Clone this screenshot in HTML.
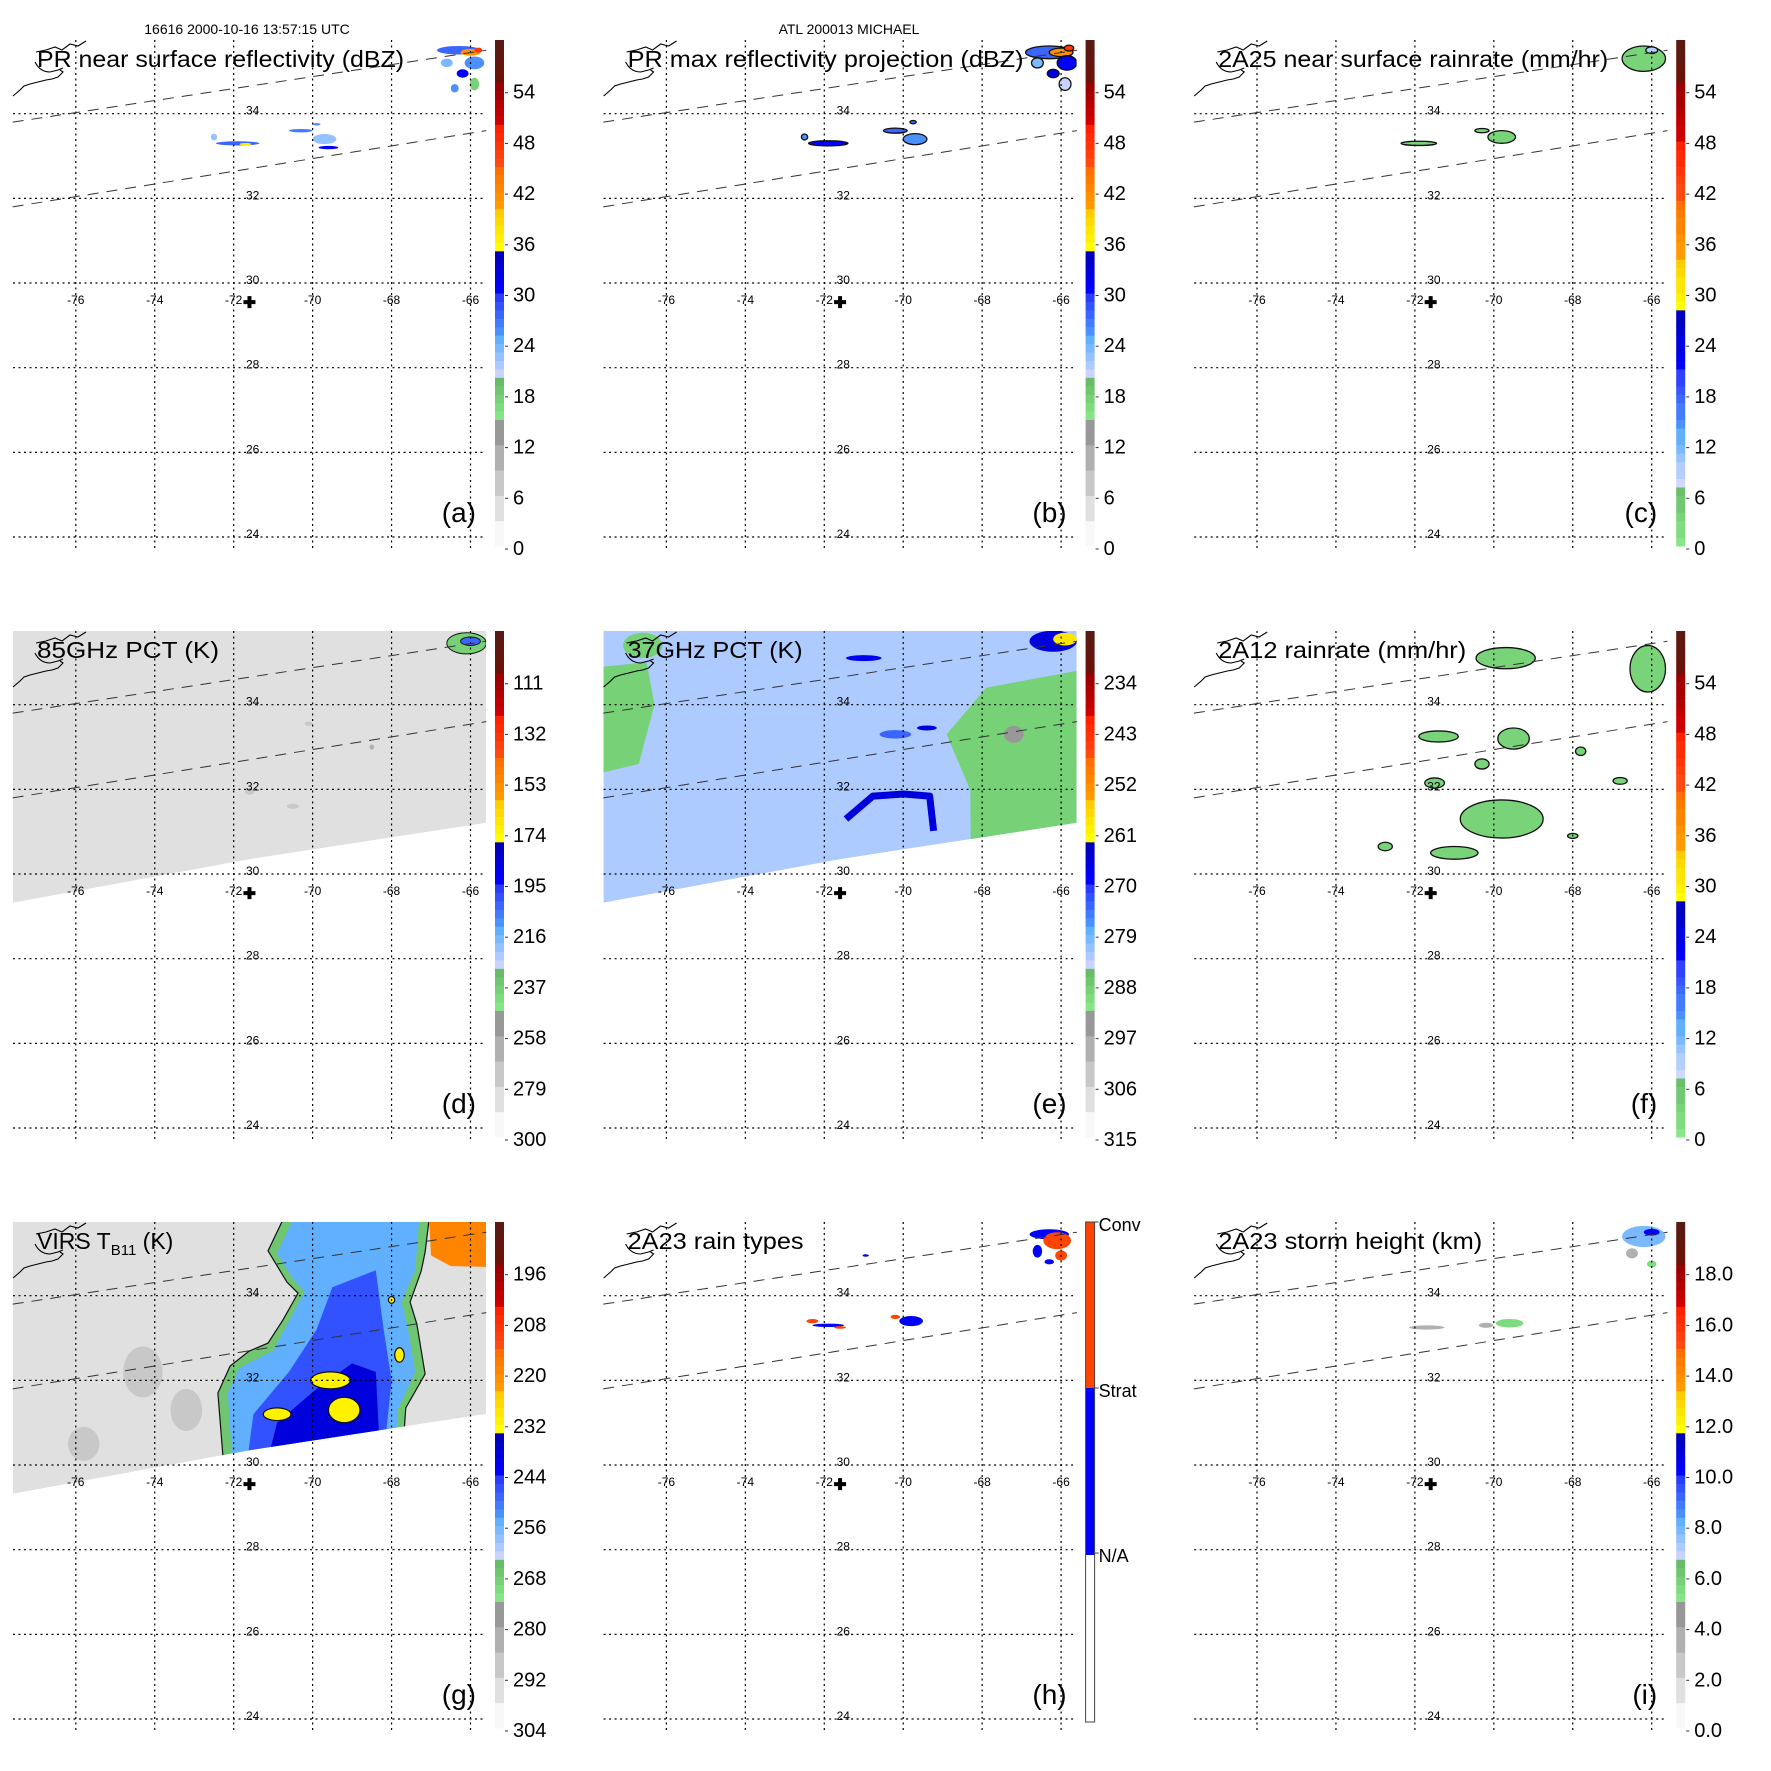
<!DOCTYPE html>
<html><head><meta charset="utf-8"><title>TRMM ATL 200013 MICHAEL</title>
<style>
html,body{margin:0;padding:0;background:#fff;}
svg{display:block;font-family:"Liberation Sans",Arial,sans-serif;}
</style></head>
<body>
<svg id="fig" width="1771" height="1771" viewBox="0 0 1771 1771" xmlns="http://www.w3.org/2000/svg">
<rect x="0" y="0" width="1771" height="1771" fill="#fff"/>
<text x="247" y="34" font-size="14" text-anchor="middle">16616 2000-10-16 13:57:15 UTC</text>
<text x="849" y="34" font-size="14" text-anchor="middle">ATL 200013 MICHAEL</text>
</svg>
<script>
// ---------- data ----------
const gridLons = [-76, -74, -72, -70, -68, -66];
const gridLats = [24, 26, 28, 30, 32, 34];
const centerLon = -71.6;
const centerLat = 29.55;
const swathLon = [-77.6, -65.6, -65.6, -71.6, -77.6];
const swathLat = [35.75, 35.75, 31.21, 30.35, 29.32];
const swathEdgeUpperLon = [-77.6, -65.6];
const swathEdgeUpperLat = [33.8, 35.5];
const swathEdgeLowerLon = [-77.6, -65.6];
const swathEdgeLowerLat = [31.8, 33.6];

const ticksDbz = ['0','6','12','18','24','30','36','42','48','54'];
const ticksRain = ['0','6','12','18','24','30','36','42','48','54'];
const ticks85 = ['300','279','258','237','216','195','174','153','132','111'];
const ticks37 = ['315','306','297','288','279','270','261','252','243','234'];
const ticksVirs = ['304','292','280','268','256','244','232','220','208','196'];
const ticksHeight = ['0.0','2.0','4.0','6.0','8.0','10.0','12.0','14.0','16.0','18.0'];
const rainTypeLabels = ['Conv','Strat','N/A'];

// cells: [lon, lat, rLon, rLat, value]
const aCells = [
  [-66.3,35.5,0.55,0.1,28],[-66.0,35.45,0.25,0.08,42],[-65.9,35.2,0.25,0.15,26],[-66.6,35.2,0.15,0.1,24],
  [-66.2,34.95,0.15,0.1,30],[-65.9,34.7,0.12,0.15,17],[-66.4,34.6,0.1,0.1,26],[-65.8,35.5,0.1,0.06,47],
  [-71.9,33.3,0.55,0.05,28],[-72.5,33.45,0.08,0.08,22],[-71.7,33.28,0.15,0.03,37],
  [-70.3,33.6,0.3,0.04,27],[-69.7,33.4,0.3,0.12,22],[-69.6,33.2,0.25,0.04,30],[-69.9,33.75,0.1,0.03,26]
];
const bCells = [
  [-66.3,35.45,0.6,0.15,28],[-66.0,35.45,0.3,0.1,42],[-65.85,35.2,0.25,0.17,30],[-66.6,35.2,0.15,0.12,24],
  [-66.2,34.95,0.15,0.1,32],[-65.9,34.7,0.15,0.15,20],[-65.8,35.55,0.12,0.07,47],
  [-71.9,33.3,0.5,0.06,30],[-72.5,33.45,0.08,0.07,26],
  [-70.2,33.6,0.3,0.06,28],[-69.7,33.4,0.3,0.13,26],[-69.75,33.8,0.08,0.04,28]
];
const cCells = [
  [-66.2,35.3,0.55,0.3,3],[-66.0,35.5,0.15,0.08,9],[-71.9,33.3,0.45,0.05,3],[-69.8,33.45,0.35,0.15,3],[-70.3,33.6,0.18,0.05,3]
];
const fCells = [
  [-69.7,35.1,0.75,0.25,3],[-66.1,34.85,0.45,0.55,3],[-71.4,33.25,0.5,0.13,3],[-69.5,33.2,0.4,0.25,3],
  [-70.3,32.6,0.18,0.12,3],[-71.5,32.15,0.25,0.12,3],[-69.8,31.3,1.05,0.45,3],[-71.0,30.5,0.6,0.15,3],
  [-72.75,30.65,0.18,0.1,3],[-67.8,32.9,0.13,0.1,3],[-66.8,32.2,0.18,0.08,3],[-68.0,30.9,0.13,0.06,3]
];
const dCells = [
  [-66.1,35.45,0.5,0.25,240],[-66.0,35.5,0.25,0.1,205],[-71.6,31.95,0.12,0.08,272],[-70.1,33.55,0.1,0.05,270],
  [-68.5,33.0,0.06,0.06,265],[-70.5,31.6,0.15,0.06,276],[-74.0,32.5,0.8,0.5,285]
];
const eCells = [
  [-66.2,35.5,0.6,0.25,266],[-65.9,35.55,0.3,0.15,258],[-71.0,35.1,0.45,0.07,268],[-70.2,33.3,0.4,0.1,273],
  [-69.4,33.45,0.25,0.06,266],[-67.2,33.3,0.25,0.2,297],[-76.6,35.4,0.5,0.3,289]
];
const ePolys = [
  [289, [[-77.6,34.9],[-76.5,35.0],[-76.3,34.0],[-76.7,32.6],[-77.6,32.4]]],
  [289, [[-67.9,34.4],[-65.61,34.8],[-65.61,31.0],[-68.29,30.6],[-68.3,31.98],[-68.9,33.3]]]
];
const eArcLon = [-71.45,-70.77,-69.99,-69.33,-69.23];
const eArcLat = [31.30,31.84,31.89,31.84,31.02];
const gPolys = [
  [268, [[-72.22,29.6],[-72.40,31.70],[-72.09,32.34],[-71.61,32.69],[-71.13,32.88],[-70.75,33.43],[-70.37,34.06],[-70.65,34.32],[-71.13,35.06],[-70.75,35.8],[-67.05,35.8],[-67.15,35.03],[-67.25,34.58],[-67.53,33.85],[-67.36,33.33],[-67.15,32.15],[-67.64,31.35],[-67.74,30.0]]],
  [255, [[-72.0,29.6],[-72.15,31.7],[-71.85,32.3],[-71.0,32.7],[-70.6,33.4],[-70.2,34.1],[-70.5,34.4],[-70.9,35.0],[-70.5,35.8],[-67.3,35.8],[-67.4,34.6],[-67.75,33.85],[-67.6,33.3],[-67.4,32.2],[-67.85,31.3],[-67.9,30.0]]],
  [247, [[-71.7,29.8],[-71.5,31.2],[-70.6,32.2],[-69.9,33.2],[-69.5,34.2],[-68.4,34.6],[-68.2,33.2],[-68.0,32.0],[-68.2,30.2]]],
  [240, [[-71.2,29.9],[-70.9,31.0],[-69.9,31.8],[-69.0,32.4],[-68.4,32.2],[-68.3,30.4]]],
  [218, [[-67.05,35.8],[-65.6,35.8],[-65.6,34.68],[-66.5,34.7],[-67.0,34.95]]]
];
const gCells = [
  [-74.3,32.2,0.5,0.6,287],[-73.2,31.3,0.4,0.5,287],[-75.8,30.5,0.4,0.4,288],
  [-69.55,32.0,0.5,0.2,232],[-69.2,31.3,0.4,0.3,232],[-70.9,31.2,0.35,0.15,232],[-67.8,32.6,0.12,0.17,232],[-68.0,33.9,0.08,0.08,232]
];
const hCells = [
  [-66.3,35.45,0.5,0.12,1],[-66.1,35.3,0.35,0.2,2],[-66.6,35.05,0.12,0.15,1],[-66.0,34.95,0.15,0.12,2],[-66.3,34.8,0.12,0.06,1],
  [-71.9,33.3,0.4,0.04,1],[-72.3,33.4,0.15,0.05,2],[-71.6,33.25,0.15,0.03,2],[-69.8,33.4,0.3,0.12,1],[-70.2,33.5,0.12,0.05,2],[-70.95,34.95,0.08,0.03,1]
];
const iCells = [
  [-66.2,35.4,0.55,0.25,8],[-66.0,35.5,0.2,0.08,10],[-66.5,35.0,0.15,0.12,3],[-66.0,34.75,0.12,0.08,5.5],
  [-71.7,33.25,0.45,0.05,3],[-69.6,33.35,0.35,0.1,5.5],[-70.2,33.3,0.18,0.06,3]
];

// colour bands (bottom colour, top colour)
const stdEdges = [0,0.25,0.333,0.417,0.5,0.583,0.667,0.75,0.833,0.917,1];
const stdColors = [['#f8f8f8','#989898'],['#86e686','#68bb68'],['#c8d4ff','#60b0ff'],['#4a90ff','#2a3cff'],['#0000ff','#0000b8'],['#ffff00','#ffcc00'],['#ff9a00','#ff7000'],['#ff4a10','#ff2000'],['#cc0000','#9a0000'],['#6b1208','#5a1a12']];
const rainEdges = [0,0.115,0.23,0.344,0.459,0.573,0.688,0.803,0.917,1];
const rainColors = [['#88e688','#6abf6a'],['#d0d8ff','#60b0ff'],['#4a90ff','#3040ff'],['#0000ff','#0000c0'],['#ffff00','#ffcc00'],['#ff9a00','#ff7000'],['#ff4a10','#ff2000'],['#cc0000','#9a0000'],['#6b1208','#5a1a12']];

// ---------- helpers ----------
const NS = 'http://www.w3.org/2000/svg';
const svg = document.getElementById('fig');
function mk(tag, attrs, parent){ const e=document.createElementNS(NS,tag); for(const k in attrs) e.setAttribute(k,attrs[k]); parent.appendChild(e); return e; }
const X = lon => 75.8 + (lon + 76) * 39.47;
const Y = lat => 113.7 + (34 - lat) * 42.33;
const MAP = {x:13, y:40, w:473, h:508};
function hex(c){ return [parseInt(c.substr(1,2),16),parseInt(c.substr(3,2),16),parseInt(c.substr(5,2),16)]; }
function colorAt(edges, cols, f){
  f = Math.max(0, Math.min(0.9999, f));
  for(let i=0;i<cols.length;i++){
    if(f>=edges[i] && f<edges[i+1]){
      let t=(f-edges[i])/(edges[i+1]-edges[i]); t=Math.floor(t*5)/4; t=Math.min(1,t);
      const a=hex(cols[i][0]), b=hex(cols[i][1]);
      return 'rgb('+a.map((v,k)=>Math.round(v+(b[k]-v)*t)).join(',')+')';
    }
  }
  return cols[cols.length-1][1];
}

const panels = [
  {id:'a', title:'PR near surface reflectivity (dBZ)', tl:367, ticks:ticksDbz, bot:0, top:60, edges:stdEdges, cols:stdColors, cells:aCells, outline:false},
  {id:'b', title:'PR max reflectivity projection (dBZ)', tl:396, ticks:ticksDbz, bot:0, top:60, edges:stdEdges, cols:stdColors, cells:bCells, outline:true},
  {id:'c', title:'2A25 near surface rainrate (mm/hr)', tl:390, ticks:ticksRain, bot:0, top:60, edges:rainEdges, cols:rainColors, cells:cCells, outline:true},
  {id:'d', title:'85GHz PCT (K)', tl:182, ticks:ticks85, bot:300, top:90, edges:stdEdges, cols:stdColors, cells:dCells, swath:289, outline:true},
  {id:'e', title:'37GHz PCT (K)', tl:175, ticks:ticks37, bot:315, top:225, edges:stdEdges, cols:stdColors, cells:eCells, swath:283, polys:ePolys, arc:true},
  {id:'f', title:'2A12 rainrate (mm/hr)', tl:248, ticks:ticksRain, bot:0, top:60, edges:rainEdges, cols:rainColors, cells:fCells, outline:true},
  {id:'g', title:'VIRS', ticks:ticksVirs, bot:304, top:184, edges:stdEdges, cols:stdColors, cells:gCells, swath:293, polys:gPolys, gcells:true},
  {id:'h', title:'2A23 rain types', tl:176, special:'h', cells:hCells},
  {id:'i', title:'2A23 storm height (km)', tl:264, ticks:ticksHeight, bot:0, top:20, edges:stdEdges, cols:stdColors, cells:iCells, outline:false}
];

panels.forEach((p, idx) => {
  const col = idx % 3, row = Math.floor(idx / 3);
  const g = mk('g', {transform:'translate('+(col*590.6)+','+(row*591)+')'}, svg);
  
  
  const cid = 'clip-' + p.id;
  const defs = mk('defs', {}, g);
  const cp = mk('clipPath', {id:cid}, defs);
  mk('rect', {x:MAP.x, y:MAP.y, width:MAP.w, height:MAP.h}, cp);
  const sid = 'swclip-' + p.id;
  const sp = mk('clipPath', {id:sid}, defs);
  mk('polygon', {points: swathLon.map((l,k)=>X(l)+','+Y(swathLat[k])).join(' ')}, sp);

  const map = mk('g', {'clip-path':'url(#'+cid+')'}, g);
  
  
  const fr = v => (v - p.bot) / (p.top - p.bot);
  const cf = v => colorAt(p.edges, p.cols, fr(v));

  if (p.swath !== undefined) {
    const sw = mk('g', {'clip-path':'url(#'+sid+')'}, map);
    
    
    mk('polygon', {points: swathLon.map((l,k)=>X(l)+','+Y(swathLat[k])).join(' '), fill: cf(p.swath)}, sw);
    (p.polys || []).forEach(pp => {
      const poly = mk('polygon', {points: pp[1].map(q=>X(q[0])+','+Y(q[1])).join(' '), fill: cf(pp[0])}, sw);
      
      
      if (p.id === 'g' && pp[0] === 268) { poly.setAttribute('stroke', '#111'); poly.setAttribute('stroke-width', '1.2'); }
    });
    if (p.arc) {
      const arc = mk('polyline', {points: eArcLon.map((l,k)=>X(l)+','+Y(eArcLat[k])).join(' '), fill:'none', stroke: cf(266), 'stroke-width':7, 'stroke-linejoin':'round'}, sw);
      
      
    }
    p.cells.forEach(c => {
      const e = mk('ellipse', {cx:X(c[0]), cy:Y(c[1]), rx:c[2]*39.47, ry:c[3]*42.33, fill:cf(c[4])}, sw);
      if (p.id === 'g' && c[4] < 240) { e.setAttribute('stroke','#111'); e.setAttribute('stroke-width','1.2'); }
      if (p.id === 'd' && c[4] < 250) { e.setAttribute('stroke','#111'); e.setAttribute('stroke-width','1'); }
      
      
    });
  } else {
    p.cells.forEach(c => {
      let fill;
      if (p.special === 'h') fill = c[4] === 2 ? '#ff4500' : '#0000ff';
      else fill = cf(c[4]);
      const e = mk('ellipse', {cx:X(c[0]), cy:Y(c[1]), rx:c[2]*39.47, ry:c[3]*42.33, fill:fill}, map);
      if (p.outline) { e.setAttribute('stroke','#111'); e.setAttribute('stroke-width','1.3'); }
      
      
    });
  }

  // grid
  gridLons.forEach(lon => {
    const l = mk('line', {x1:X(lon), x2:X(lon), y1:MAP.y, y2:548, stroke:'#000', 'stroke-width':1.2, 'stroke-dasharray':'2,3.5'}, g);
    
    
    const t = mk('text', {x:X(lon), y:304, 'font-size':12, 'text-anchor':'middle'}, g);
    t.textContent = String(lon);
    
    
  });
  gridLats.forEach(lat => {
    const l = mk('line', {x1:MAP.x, x2:MAP.x+MAP.w, y1:Y(lat), y2:Y(lat), stroke:'#000', 'stroke-width':1.2, 'stroke-dasharray':'2,3.5'}, g);
    
    
    const t = mk('text', {x:246, y:Y(lat)+1, 'font-size':12}, g);
    t.textContent = String(lat);
    
    
  });
  // swath edges
  [[swathEdgeUpperLon, swathEdgeUpperLat],[swathEdgeLowerLon, swathEdgeLowerLat]].forEach(se => {
    const l = mk('line', {x1:X(se[0][0]), y1:Y(se[1][0]), x2:X(se[0][1]), y2:Y(se[1][1]), stroke:'#333', 'stroke-width':1, 'stroke-dasharray':'11,8'}, g);
    
    
  });
  // coast
  const coast = mk('path', {d:'M13,96 L20,90 L24,86 L30,84 L38,82 L46,80 L52,79 L58,77 L63,72 L60,70 M35,62 Q40,72 50,72 L58,70 L63,68 M36,52 L46,50 L55,47 L62,50 L70,44 L78,46 L86,41', fill:'none', stroke:'#000', 'stroke-width':1.1}, g);
  
  
  // center marker
  const mkr = mk('path', {d:'M'+(X(centerLon)-6)+','+(Y(centerLat)-2)+' h12 v4 h-12z M'+(X(centerLon)-2)+','+(Y(centerLat)-6)+' h4 v12 h-4z', fill:'#000'}, g);
  
  

  // title
  const tt = mk('text', {x:37, y:67, 'font-size':23}, g);
  if (p.id === 'g') {
    tt.textContent = 'VIRS T';
    const s = mk('tspan', {'font-size':15, dy:6}, tt); s.textContent = 'B11';
    const r = mk('tspan', {dy:-6}, tt); r.textContent = ' (K)';
  } else {
    tt.textContent = p.title;
    tt.setAttribute('textLength', p.tl);
    tt.setAttribute('lengthAdjust', 'spacingAndGlyphs');
  }
  
  
  // letter
  const lt = mk('text', {x:476, y:522, 'font-size':28, 'text-anchor':'end'}, g);
  lt.textContent = '(' + p.id + ')';
  
  

  // colorbar
  const cb = mk('g', {}, g);
  
  
  if (p.special === 'h') {
    mk('rect', {x:495, y:40, width:9, height:166, fill:'#ff4500'}, cb);
    mk('rect', {x:495, y:206, width:9, height:167, fill:'#0000ff'}, cb);
    mk('rect', {x:495, y:40, width:9, height:500, fill:'none', stroke:'#444', 'stroke-width':1}, cb);
    const ys = [43, 209, 374];
    rainTypeLabels.forEach((lab, k) => {
      mk('line', {x1:503, x2:508, y1:ys[k]-3, y2:ys[k]-3, stroke:'#444'}, cb);
      const t = mk('text', {x:508, y:ys[k], 'font-size':18, 'dominant-baseline':'central'}, cb);
      t.textContent = lab;
      
      
    });
  } else {
    const N = 60, top = 40, bot = 546, hgt = (bot - top) / N;
    for (let k = 0; k < N; k++) {
      const f = (k + 0.5) / N;
      mk('rect', {x:495, y:bot - (k+1)*hgt, width:9, height:hgt+0.5, fill:colorAt(p.edges, p.cols, f)}, cb);
    }
    p.ticks.forEach((lab, k) => {
      const y = 549 - k * 50.7;
      mk('line', {x1:505, x2:508, y1:y, y2:y, stroke:'#333'}, cb);
      const t = mk('text', {x:513, y:y, 'font-size':20, 'dominant-baseline':'central'}, cb);
      t.textContent = lab;
      
      
    });
  }
});
</script>
</body></html>
